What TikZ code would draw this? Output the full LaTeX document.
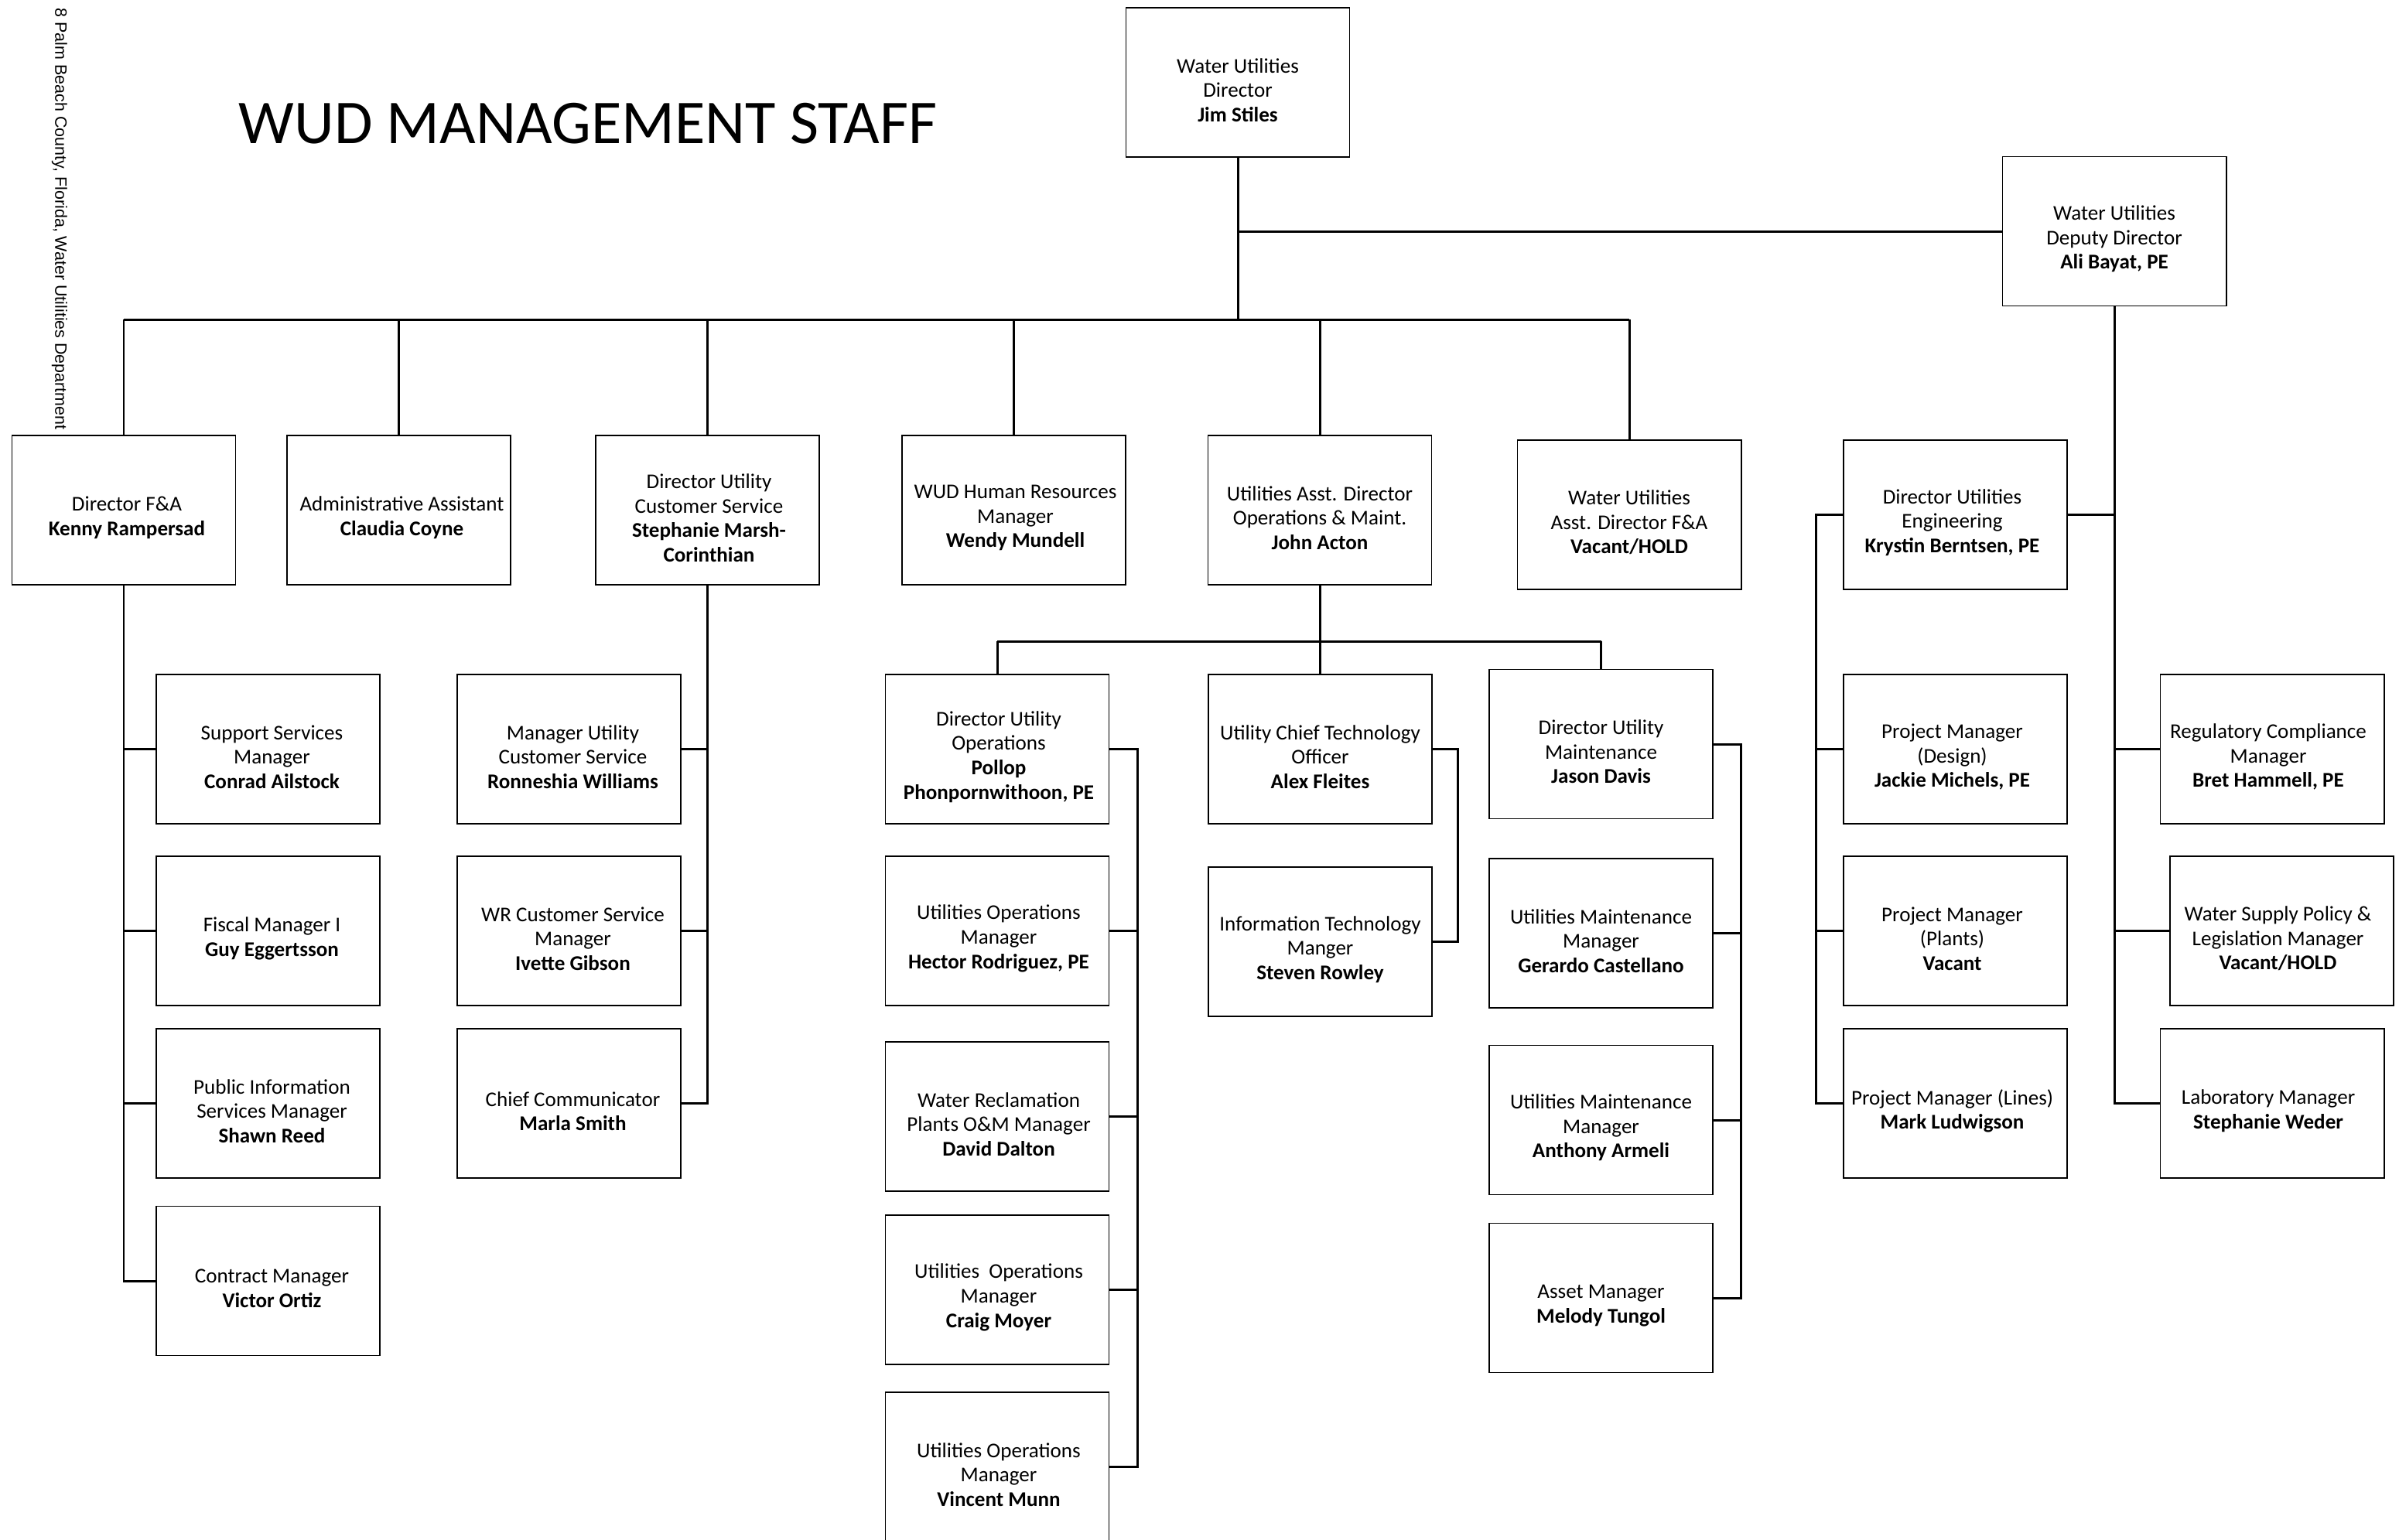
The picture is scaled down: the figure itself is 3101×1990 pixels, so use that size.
\documentclass[tikz,border=0pt]{standalone}
\usepackage{fontspec}
\setmainfont{Carlito}
\newfontfamily\arialfont{Liberation Sans}
\newcommand\boxfont{\fontsize{7.7}{9}\selectfont}
% \bx[text x-offset in px]{name}{x,y}{text}
\newcommand\bx[4][0]{%
  \node[box] (#2) at (#3) {};
  \node[boxtext] (#2-t) at ([xshift=#1*0.01cm,yshift=-0.1cm]#2.center) {#4};}
\begin{document}
\begin{tikzpicture}[x=0.01cm,y=-0.01cm,
  box/.style={draw, line width=0.5pt, minimum width=2.89cm, minimum height=1.93cm, inner sep=0pt},
  boxtext/.style={inner sep=0pt, align=center, font=\boxfont},
  link/.style={line width=0.85pt}]
\useasboundingbox (0,0) rectangle (3101,1990);

% title and side text
\node[anchor=base west, inner sep=0, font=\fontsize{22.9}{27}\selectfont] (title) at (308,185) {WUD MANAGEMENT STAFF};
\node[rotate=-90, anchor=west, inner sep=0, font=\arialfont\fontsize{6.1}{7}\selectfont] (side) at (77,10) {8 Palm Beach County, Florida, Water Utilities Department};

% top
\bx{dir}{1600,106.5}{Water Utilities\\Director\\\textbf{Jim Stiles}}
\bx{dep}{2733,299}{Water Utilities\\Deputy Director\\\textbf{Ali Bayat, PE}}

% first row
\bx[4]{fa}{160,659.5}{Director F\&A\\\textbf{Kenny Rampersad}}
\bx[4]{adm}{515.5,659.5}{Administrative Assistant\\\textbf{Claudia Coyne}}
\bx[2]{cs}{914.5,659.5}{Director Utility\\Customer Service\\\textbf{Stephanie Marsh-}\\\textbf{Corinthian}}
\bx[2]{hr}{1310.5,659.5}{WUD Human Resources\\Manager\\\textbf{Wendy Mundell}}
\bx{aom}{1706,659.5}{Utilities Asst. Director\\Operations \& Maint.\\\textbf{John Acton}}
\bx{wfa}{2106,665.5}{Water Utilities\\Asst. Director F\&A\\\textbf{Vacant/HOLD}}
\bx[-4]{eng}{2527.5,665.5}{Director Utilities\\Engineering\\\textbf{Krystin Berntsen, PE}}

% F&A children
\bx[5]{ss}{346.5,968.5}{Support Services\\Manager\\\textbf{Conrad Ailstock}}
\bx[5]{fm}{346.5,1203.5}{Fiscal Manager I\\\textbf{Guy Eggertsson}}
\bx[5]{pi}{346.5,1426.5}{Public Information\\Services Manager\\\textbf{Shawn Reed}}
\bx[5]{con}{346.5,1656}{Contract Manager\\\textbf{Victor Ortiz}}

% Customer service children
\bx[5]{muc}{735.5,968.5}{Manager Utility\\Customer Service\\\textbf{Ronneshia Williams}}
\bx[5]{wrc}{735.5,1203.5}{WR Customer Service\\Manager\\\textbf{Ivette Gibson}}
\bx[5]{cc}{735.5,1426.5}{Chief Communicator\\\textbf{Marla Smith}}

% Operations
\bx[2]{dops}{1289,968.5}{Director Utility\\Operations\\\textbf{Pollop}\\\textbf{Phonpornwithoon, PE}}
\bx[2]{hec}{1289,1203.5}{Utilities Operations\\Manager\\\textbf{Hector Rodriguez, PE}}
\bx[2]{wrp}{1289,1443.5}{Water Reclamation\\Plants O\&M Manager\\\textbf{David Dalton}}
\bx[2]{cm}{1289,1667.5}{Utilities\ \ Operations\\Manager\\\textbf{Craig Moyer}}
\bx[2]{vm}{1289,1896.5}{Utilities Operations\\Manager\\\textbf{Vincent Munn}}

% Technology
\bx{cto}{1706.5,968.5}{Utility Chief Technology\\Officer\\\textbf{Alex Fleites}}
\bx{it}{1706.5,1217.5}{Information Technology\\Manger\\\textbf{Steven Rowley}}

% Maintenance
\bx{dm}{2069.5,962}{Director Utility\\Maintenance\\\textbf{Jason Davis}}
\bx{ger}{2069.5,1206.5}{Utilities Maintenance\\Manager\\\textbf{Gerardo Castellano}}
\bx{ant}{2069.5,1448}{Utilities Maintenance\\Manager\\\textbf{Anthony Armeli}}
\bx{asm}{2069.5,1678}{Asset Manager\\\textbf{Melody Tungol}}

% Engineering children
\bx[-4]{pmd}{2527.5,968.5}{Project Manager\\(Design)\\\textbf{Jackie Michels, PE}}
\bx[-4]{pmp}{2527.5,1203.5}{Project Manager\\(Plants)\\\textbf{Vacant}}
\bx[-4]{pml}{2527.5,1426.5}{Project Manager (Lines)\\\textbf{Mark Ludwigson}}

% Deputy children
\bx[-5]{reg}{2937,968.5}{Regulatory Compliance\\Manager\\\textbf{Bret Hammell, PE}}
\bx[-5]{wsp}{2949.5,1203.5}{Water Supply Policy \&\\Legislation Manager\\\textbf{Vacant/HOLD}}
\bx[-5]{lab}{2937,1426.5}{Laboratory Manager\\\textbf{Stephanie Weder}}

% helper coordinates
\coordinate (bar) at (1600,413);
\coordinate (sub) at (1706,829);
\coordinate (engbr) at (2347,0);
\coordinate (opsbr) at (1470,0);
\coordinate (ctobr) at (1884,0);
\coordinate (mbr) at (2250,0);

% director connections
\draw[link] (dir.south) -- (dir.south |- bar);
\draw[link] (fa.north |- bar) -- (wfa.north |- bar);
\draw[link] (dep.west) -- (dir.south |- dep.west);
\foreach \n in {fa,adm,cs,hr,aom,wfa}
  \draw[link] (\n.north) -- (\n.north |- bar);

% deputy
\draw[link] (dep.south) -- (dep.south |- lab.west) -- (lab.west);
\draw[link] (eng.east) -- (dep.south |- eng.east);
\draw[link] (dep.south |- reg.west) -- (reg.west);
\draw[link] (dep.south |- wsp.west) -- (wsp.west);

% engineering
\draw[link] (eng.west) -- (engbr |- eng.west) -- (engbr |- pml.west) -- (pml.west);
\draw[link] (engbr |- pmd.west) -- (pmd.west);
\draw[link] (engbr |- pmp.west) -- (pmp.west);

% F&A
\draw[link] (fa.south) -- (fa.south |- con.west) -- (con.west);
\foreach \n in {ss,fm,pi}
  \draw[link] (fa.south |- \n.west) -- (\n.west);

% customer service
\draw[link] (cs.south) -- (cs.south |- cc.east) -- (cc.east);
\foreach \n in {muc,wrc}
  \draw[link] (cs.south |- \n.east) -- (\n.east);

% operations & maintenance
\draw[link] (aom.south) -- (sub);
\draw[link] (dops.north |- sub) -- (dm.north |- sub);
\draw[link] (dops.north) -- (dops.north |- sub);
\draw[link] (cto.north) -- (cto.north |- sub);
\draw[link] (dm.north) -- (dm.north |- sub);

\draw[link] (dops.east) -- (opsbr |- dops.east) -- (opsbr |- vm.east) -- (vm.east);
\foreach \n in {hec,wrp,cm}
  \draw[link] (opsbr |- \n.east) -- (\n.east);

\draw[link] (cto.east) -- (ctobr |- cto.east) -- (ctobr |- it.east) -- (it.east);

\draw[link] (dm.east) -- (mbr |- dm.east) -- (mbr |- asm.east) -- (asm.east);
\foreach \n in {ger,ant}
  \draw[link] (mbr |- \n.east) -- (\n.east);
\end{tikzpicture}
\end{document}
